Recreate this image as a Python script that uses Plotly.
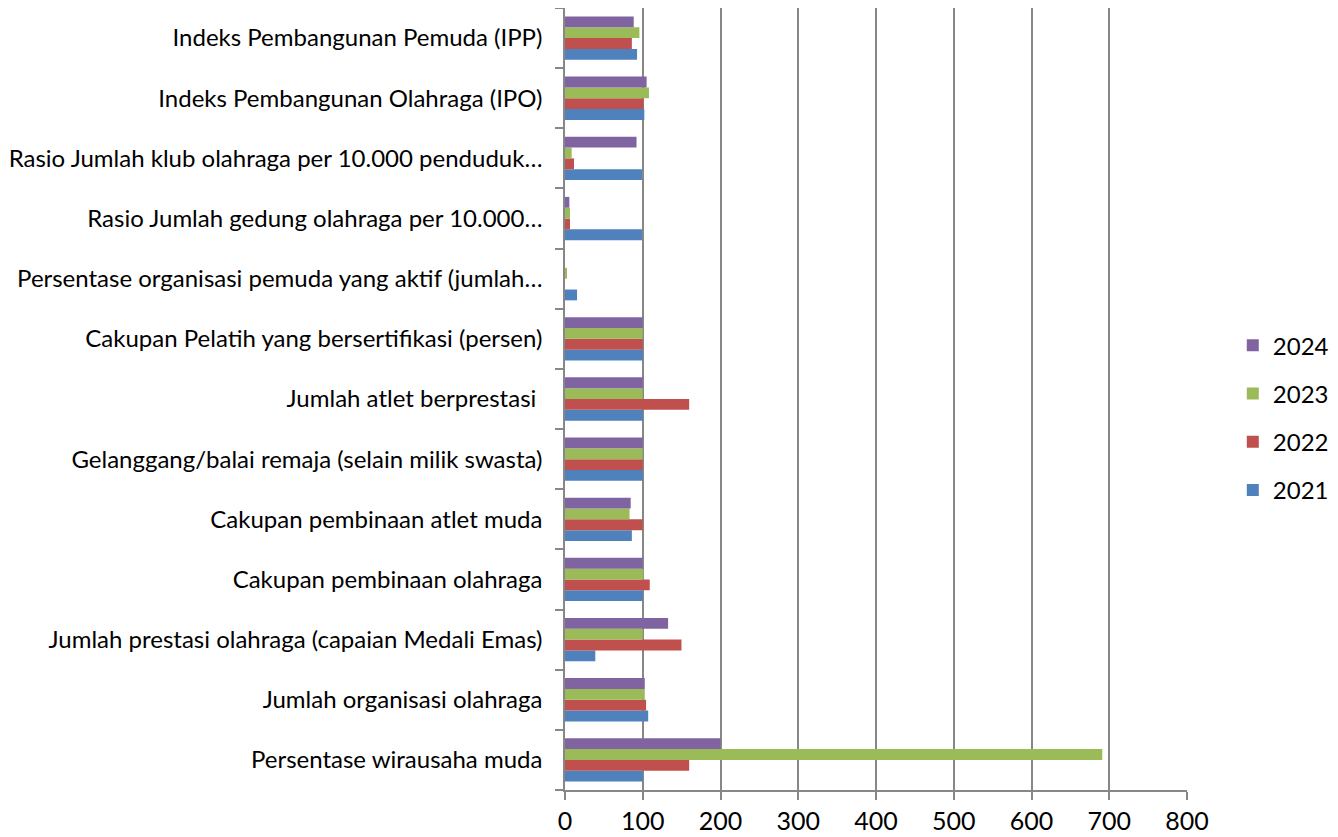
import plotly.graph_objects as go

categories = [
    "Persentase wirausaha muda",
    "Jumlah organisasi olahraga",
    "Jumlah prestasi olahraga (capaian Medali Emas)",
    "Cakupan pembinaan olahraga",
    "Cakupan pembinaan atlet muda",
    "Gelanggang/balai remaja (selain milik swasta)",
    "Jumlah atlet berprestasi ",
    "Cakupan Pelatih yang bersertifikasi (persen)",
    "Persentase organisasi pemuda yang aktif (jumlah…",
    "Rasio Jumlah gedung olahraga per 10.000…",
    "Rasio Jumlah klub olahraga per 10.000 penduduk…",
    "Indeks Pembangunan Olahraga (IPO)",
    "Indeks Pembangunan Pemuda (IPP)",
]

v2021 = [100, 107, 39, 100, 86, 100, 100, 100, 15.5, 99, 99, 102, 92.7]
v2022 = [159.7, 104.3, 149.8, 109, 100, 100, 159.7, 100, 0, 6.4, 11.6, 101, 86]
v2023 = [691, 102.6, 100, 101, 83, 100, 100, 100, 2.6, 6.4, 8.6, 108, 95.7]
v2024 = [200, 102.6, 132.6, 100, 84.5, 100, 100, 100, 0, 5.6, 92, 105, 88.4]

series = [
    ("2021", v2021, "#4F81BD", 4),
    ("2022", v2022, "#C0504D", 3),
    ("2023", v2023, "#9BBB59", 2),
    ("2024", v2024, "#8064A2", 1),
]

fig = go.Figure()
for name, vals, color, rank in series:
    fig.add_trace(go.Bar(
        y=categories, x=vals, name=name, orientation="h",
        marker=dict(color=color, line=dict(width=0)),
        legendgroup=name, legendrank=rank,
    ))

font = "Lato, 'Open Sans', sans-serif"
fig.update_layout(
    width=1330, height=829,
    margin=dict(l=557, r=151, t=0, b=47),
    plot_bgcolor="white", paper_bgcolor="white",
    barmode="group", bargap=0.28, bargroupgap=0,
    font=dict(family=font, size=24, color="black"),
    legend=dict(
        x=1.236, y=0.476, xanchor="right", yanchor="middle",
        traceorder="grouped", tracegroupgap=14,
        font=dict(size=24),
    ),
    showlegend=True,
)
fig.update_xaxes(
    range=[0, 800], dtick=100, showgrid=True, gridcolor="#878787", gridwidth=1.5,
    showline=True, linecolor="#878787", linewidth=1.5,
    ticks="outside", ticklen=8, tickcolor="#878787", tickwidth=1.5,
    zeroline=False, tickfont=dict(size=25), automargin=False,
)
fig.update_yaxes(
    type="category", categoryorder="array", categoryarray=categories,
    showline=True, linecolor="#878787", linewidth=1.5,
    ticks="outside", ticklen=8, tickcolor="#878787", tickwidth=1.5,
    tickson="boundaries", showgrid=False, tickfont=dict(size=24),
    ticklabelstandoff=16, automargin=False,
)

fig.write_html("out.html")
